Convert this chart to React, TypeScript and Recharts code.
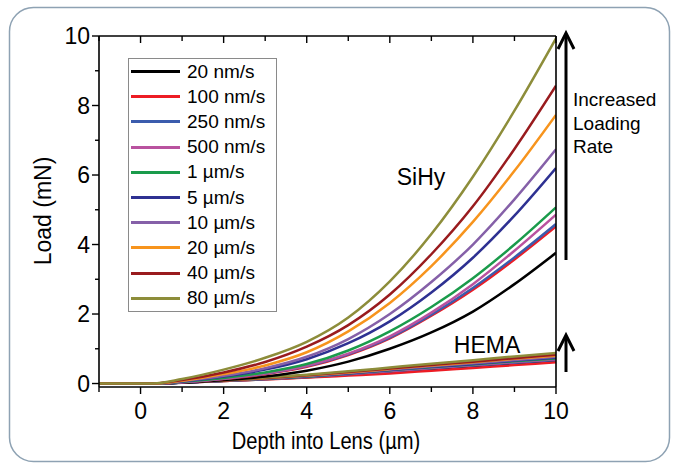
import React from 'react';
import { LineChart, Line, XAxis, YAxis } from 'recharts';

// depth into lens (um)
const depths = [-1, 0, 0.3, 1, 2, 3, 4, 5, 6, 7, 8, 9, 10];

const rateLabels = ['20 nm/s', '100 nm/s', '250 nm/s', '500 nm/s', '1 µm/s', '5 µm/s', '10 µm/s', '20 µm/s', '40 µm/s', '80 µm/s'];
const rateColors = ['#000000', '#ed1c24', '#3b5cad', '#b9529f', '#1a9b4b', '#2e3192', '#8560a8', '#f7941d', '#991b1e', '#8d8d3a'];

// SiHy load (mN)
const sihy20nm = [0, 0, 0, 0.02, 0.1, 0.2, 0.37, 0.63, 1.0, 1.47, 2.07, 2.86, 3.76];
const sihy100nm = [0, 0, 0, 0.04, 0.13, 0.27, 0.48, 0.82, 1.3, 1.95, 2.7, 3.57, 4.52];
const sihy250nm = [0, 0, 0, 0.04, 0.14, 0.28, 0.5, 0.84, 1.32, 1.98, 2.75, 3.63, 4.59];
const sihy500nm = [0, 0, 0, 0.04, 0.14, 0.29, 0.51, 0.86, 1.36, 2.04, 2.86, 3.82, 4.86];
const sihy1um = [0, 0, 0, 0.05, 0.16, 0.32, 0.56, 0.95, 1.5, 2.2, 3.03, 4.0, 5.07];
const sihy5um = [0, 0, 0, 0.06, 0.2, 0.4, 0.7, 1.16, 1.79, 2.62, 3.62, 4.83, 6.2];
const sihy10um = [0, 0, 0, 0.07, 0.22, 0.44, 0.77, 1.28, 2.0, 2.92, 4.0, 5.3, 6.74];
const sihy20um = [0, 0, 0, 0.08, 0.27, 0.52, 0.9, 1.5, 2.32, 3.38, 4.65, 6.12, 7.73];
const sihy40um = [0, 0, 0, 0.1, 0.32, 0.62, 1.06, 1.68, 2.56, 3.72, 5.1, 6.75, 8.57];
const sihy80um = [0, 0, 0, 0.13, 0.4, 0.74, 1.2, 1.9, 2.94, 4.3, 5.95, 7.85, 9.93];

// HEMA load (mN)
const hema20nm = [0, 0, 0, 0.03, 0.07, 0.12, 0.18, 0.25, 0.33, 0.41, 0.48, 0.56, 0.64];
const hema100nm = [0, 0, 0, 0.03, 0.07, 0.12, 0.17, 0.23, 0.29, 0.37, 0.45, 0.53, 0.61];
const hema250nm = [0, 0, 0, 0.03, 0.08, 0.13, 0.19, 0.27, 0.35, 0.44, 0.52, 0.6, 0.68];
const hema500nm = [0, 0, 0, 0.03, 0.08, 0.13, 0.2, 0.28, 0.36, 0.45, 0.53, 0.62, 0.7];
const hema1um = [0, 0, 0, 0.03, 0.08, 0.14, 0.2, 0.29, 0.38, 0.47, 0.55, 0.64, 0.72];
const hema5um = [0, 0, 0, 0.03, 0.08, 0.14, 0.21, 0.29, 0.39, 0.48, 0.56, 0.66, 0.74];
const hema10um = [0, 0, 0, 0.03, 0.09, 0.15, 0.22, 0.3, 0.4, 0.5, 0.58, 0.68, 0.77];
const hema20um = [0, 0, 0, 0.04, 0.09, 0.15, 0.23, 0.32, 0.42, 0.52, 0.61, 0.71, 0.8];
const hema40um = [0, 0, 0, 0.04, 0.09, 0.16, 0.24, 0.33, 0.43, 0.53, 0.63, 0.73, 0.83];
const hema80um = [0, 0, 0, 0.04, 0.1, 0.17, 0.25, 0.35, 0.46, 0.57, 0.67, 0.78, 0.88];

const sihySeries = [sihy20nm, sihy100nm, sihy250nm, sihy500nm, sihy1um, sihy5um, sihy10um, sihy20um, sihy40um, sihy80um];
const hemaSeries = [hema20nm, hema100nm, hema250nm, hema500nm, hema1um, hema5um, hema10um, hema20um, hema40um, hema80um];

const xTicks = [-1, 0, 1, 2, 3, 4, 5, 6, 7, 8, 9, 10];
const yTicks = [0, 1, 2, 3, 4, 5, 6, 7, 8, 9, 10];

const data = depths.map((d, i) => {
  const row: Record<string, number> = { x: d };
  sihySeries.forEach((s, k) => { row['s' + k] = s[i]; });
  hemaSeries.forEach((s, k) => { row['h' + k] = s[i]; });
  return row;
});

const FONT = '"Liberation Sans", Arial, sans-serif';

const BottomTick = (props: any) => {
  const { x, y, payload } = props;
  const major = payload.value % 2 === 0;
  return (
    <g>
      <line x1={x} y1={y} x2={x} y2={y + (major ? 7 : 5)} stroke="#000" strokeWidth={1.4} />
      {major && (
        <text x={x} y={y + 32} textAnchor="middle" fontSize={23} fontFamily={FONT} fill="#000">{payload.value}</text>
      )}
    </g>
  );
};

const TopTick = (props: any) => {
  const { x, y, payload } = props;
  const major = payload.value % 2 === 0;
  return <line x1={x} y1={y} x2={x} y2={y + (major ? 7 : 5)} stroke="#000" strokeWidth={1.4} />;
};

const LeftTick = (props: any) => {
  const { x, y, payload } = props;
  const major = payload.value % 2 === 0;
  return (
    <g>
      <line x1={x - (major ? 7 : 4)} y1={y} x2={x} y2={y} stroke="#000" strokeWidth={1.4} />
      {major && (
        <text x={x - 9} y={y + 8} textAnchor="end" fontSize={23} fontFamily={FONT} fill="#000">{payload.value}</text>
      )}
    </g>
  );
};

const App: React.FC = () => {
  return (
    <div style={{ position: 'absolute', left: 0, top: 0, width: 680, height: 465, background: '#fff', fontFamily: FONT }}>
      <LineChart width={680} height={465} data={data} margin={{ top: 35, right: 123, bottom: 48, left: 59 }}>
        <XAxis dataKey="x" type="number" domain={[-1, 10]} allowDataOverflow ticks={xTicks} interval={0}
          height={30} tickSize={0} tickMargin={0} tickLine={false} tick={BottomTick}
          axisLine={{ stroke: '#000', strokeWidth: 1.6 }} />
        <XAxis xAxisId="top" orientation="top" dataKey="x" type="number" domain={[-1, 10]} allowDataOverflow ticks={xTicks} interval={0}
          height={1} tickSize={0} tickMargin={0} tickLine={false} tick={TopTick}
          axisLine={{ stroke: '#000', strokeWidth: 1.6 }} />
        <YAxis type="number" domain={[-0.1, 10]} allowDataOverflow ticks={yTicks} interval={0}
          width={40} tickSize={0} tickMargin={0} tickLine={false} tick={LeftTick}
          axisLine={{ stroke: '#000', strokeWidth: 1.6 }} />
        <YAxis yAxisId="right" orientation="right" type="number" domain={[-0.1, 10]} allowDataOverflow ticks={yTicks}
          width={1} tick={false} tickLine={false} axisLine={{ stroke: '#000', strokeWidth: 1.6 }} />
        {hemaSeries.map((_, k) => (
          <Line key={'h' + k} dataKey={'h' + k} type="monotone" stroke={rateColors[k]} strokeWidth={2.5} dot={false} isAnimationActive={false} />
        ))}
        {sihySeries.map((_, k) => (
          <Line key={'s' + k} dataKey={'s' + k} type="monotone" stroke={rateColors[k]} strokeWidth={2.5} dot={false} isAnimationActive={false} />
        ))}
      </LineChart>

      <div style={{ position: 'absolute', left: 128, top: 58, width: 147, height: 252, border: '1px solid #8a8a8a', background: '#fff' }}>
        {rateLabels.map((label, k) => (
          <div key={label} style={{ height: 25.2, display: 'flex', alignItems: 'center' }}>
            <div style={{ marginLeft: 2, width: 49, height: 3, background: rateColors[k] }} />
            <span style={{ marginLeft: 7, fontSize: 19, color: '#000', whiteSpace: 'nowrap' }}>{label}</span>
          </div>
        ))}
      </div>

      <svg width={680} height={465} style={{ position: 'absolute', left: 0, top: 0, pointerEvents: 'none' }}>
        <rect x={9.5} y={7.5} width={660} height={454} rx={24} fill="none" stroke="#8ea2b3" strokeWidth={1.5} />
        <text x={0} y={0} transform="translate(51 211) rotate(-90)" fontSize={23} fontFamily={FONT} textAnchor="middle" fill="#000">Load (mN)</text>
        <text x={0} y={0} transform="translate(326 449) scale(0.84 1)" fontSize={24} fontFamily={FONT} textAnchor="middle" fill="#000">Depth into Lens (µm)</text>
        <text x={421} y={185} fontSize={23} fontFamily={FONT} textAnchor="middle" fill="#000">SiHy</text>
        <text x={487} y={353} fontSize={23} fontFamily={FONT} textAnchor="middle" fill="#000">HEMA</text>
        <text fontSize={19} fontFamily={FONT} fill="#000">
          <tspan x={573} y={106}>Increased</tspan>
          <tspan x={573} y={130}>Loading</tspan>
          <tspan x={573} y={153}>Rate</tspan>
        </text>
        <g stroke="#000" strokeWidth={3} fill="none">
          <line x1={566} y1={260} x2={566} y2={34} />
          <polyline points="558,49 566,33 574,49" />
          <line x1={566} y1={372} x2={566} y2={336} />
          <polyline points="558,351 566,335 574,351" />
        </g>
      </svg>
    </div>
  );
};

export default App;
